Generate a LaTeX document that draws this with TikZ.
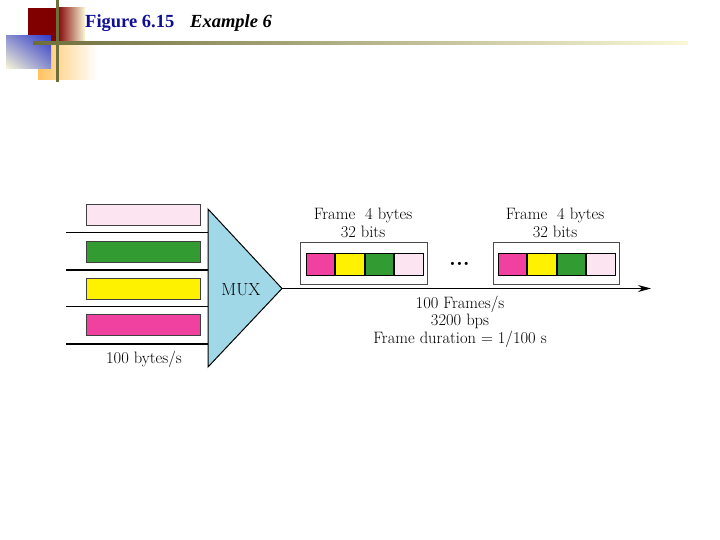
\documentclass[tikz,border=0pt]{standalone}
\usepackage{fontspec}
\newfontfamily\titlefont{Liberation Serif}
\usepackage{tikz}
\usetikzlibrary{arrows.meta, positioning, shadings}

\definecolor{slidered}{RGB}{128,0,0}
\definecolor{slideolive}{RGB}{110,110,60}
\definecolor{slidecream}{RGB}{250,248,215}
\definecolor{slideblue}{RGB}{50,60,200}
\definecolor{slideorange}{RGB}{255,195,95}
\definecolor{titleblue}{RGB}{15,15,150}
\definecolor{lightpink}{RGB}{252,228,240}
\definecolor{darkgreen}{RGB}{50,155,50}
\definecolor{hotpink}{RGB}{240,65,160}
\definecolor{muxblue}{RGB}{160,216,232}

\begin{document}
\begin{tikzpicture}[x=1pt, y=-1pt,
    inbar/.style={draw=black!75, line width=0.7pt, minimum width=114pt, minimum height=21pt, inner sep=0pt},
    cell/.style={draw=black, line width=0.8pt, minimum width=28.75pt, minimum height=22pt, inner sep=0pt},
    framebox/.style={draw=black!70, line width=0.8pt, minimum width=127pt, minimum height=42pt, inner sep=0pt},
    lbl/.style={font=\fontsize{16.5}{16.5}\selectfont, inner sep=0pt, anchor=base},
    titletxt/.style={font=\titlefont\fontsize{18.5}{18.5}\selectfont\bfseries, inner sep=0pt, anchor=base west},
    wire/.style={line width=1.2pt}]

    \useasboundingbox (0,0) rectangle (720,540);

    % =================================================================
    % 1. KHUNG TRANG TRÍ VÀ TIÊU ĐỀ
    % =================================================================
    \fill[slidered] (28,8) rectangle (57,42);
    \shade[left color=slidered, right color=slidecream] (57,8) rectangle (85,42);
    \shade[left color=slideorange, right color=white] (38,43) rectangle (97,80);
    \shade[upper right=slideblue, lower left=slidecream,
           upper left=slideblue!55!slidecream, lower right=slideblue!55!slidecream] (6,36) rectangle (51,69);
    \fill[slideolive] (55.5,0) rectangle (58.5,82);
    \shade[left color=slideolive, right color=slidecream] (33,41.5) rectangle (688,44.5);

    \node[titletxt, text=titleblue] (figtitle) at (85,28) {Figure 6.15};
    \node[titletxt, font=\titlefont\fontsize{18.5}{18.5}\selectfont\bfseries\itshape] (extitle) at (190,28) {Example 6};

    % =================================================================
    % 2. BỘ GHÉP KÊNH MUX
    % =================================================================
    \coordinate (muxtop) at (208,209);
    \coordinate (muxbot) at (208,367);
    \coordinate (muxtip) at (282,288.5);
    \draw[line width=1pt, fill=muxblue] (muxtop) -- (muxtip) -- (muxbot) -- cycle;
    \node[lbl, font=\fontsize{17.5}{17.5}\selectfont] (mux) at (241,295) {MUX};

    % Các đường vào
    \coordinate (in1) at (66,232.5);   \coordinate (m1) at (208,232.5);
    \coordinate (in2) at (66,270);     \coordinate (m2) at (208,270);
    \coordinate (in3) at (66,306.5);   \coordinate (m3) at (208,306.5);
    \coordinate (in4) at (66,344);     \coordinate (m4) at (208,344);
    \draw[wire] (in1) -- (m1);
    \draw[wire] (in2) -- (m2);
    \draw[wire] (in3) -- (m3);
    \draw[wire] (in4) -- (m4);

    % Các khối dữ liệu vào
    \node[inbar, fill=lightpink] (barA) at (143.7,214.7) {};
    \node[inbar, fill=darkgreen] (barB) at (143.7,252) {};
    \node[inbar, fill=yellow] (barC) at (143.7,288.5) {};
    \node[inbar, fill=hotpink] (barD) at (143.7,325.3) {};
    \node[lbl] (inrate) at (144,363) {100 bytes/s};

    % =================================================================
    % 3. ĐƯỜNG RA VÀ CÁC KHUNG
    % =================================================================
    \coordinate (outend) at (651,288.5);
    \draw[wire, -{Stealth[length=13pt, width=7pt]}] (muxtip) -- (outend);

    % --- Khung thứ nhất ---
    \node[framebox] (frameA) at (363.5,263) {};
    \node[cell, fill=hotpink] (a1) at (320.4,264) {};
    \node[cell, fill=yellow, right=0pt of a1] (a2) {};
    \node[cell, fill=darkgreen, right=0pt of a2] (a3) {};
    \node[cell, fill=lightpink, right=0pt of a3] (a4) {};
    \node[lbl] (frameAbytes) at (363,219.5) {Frame\ \ 4 bytes};
    \node[lbl] (frameAbits) at (363,237.5) {32 bits};

    % --- Khung cuối ---
    \node[framebox, minimum width=126pt] (frameB) at (556,263.5) {};
    \node[cell, fill=hotpink] (b1) at (512.4,264) {};
    \node[cell, fill=yellow, right=0pt of b1] (b2) {};
    \node[cell, fill=darkgreen, right=0pt of b2] (b3) {};
    \node[cell, fill=lightpink, right=0pt of b3] (b4) {};
    \node[lbl] (frameBbytes) at (555,219.5) {Frame\ \ 4 bytes};
    \node[lbl] (frameBbits) at (555,237.5) {32 bits};

    \node[font=\fontsize{22}{22}\selectfont\bfseries, inner sep=0pt, anchor=base] (dots) at (459.5,265) {...};

    % =================================================================
    % 4. THÔNG SỐ ĐẦU RA
    % =================================================================
    \node[lbl] (outrate) at (460,308) {100 Frames/s};
    \node[lbl] (outbps) at (460,325.5) {3200 bps};
    \node[lbl] (outdur) at (460,343) {Frame duration = 1/100 s};

\end{tikzpicture}
\end{document}
